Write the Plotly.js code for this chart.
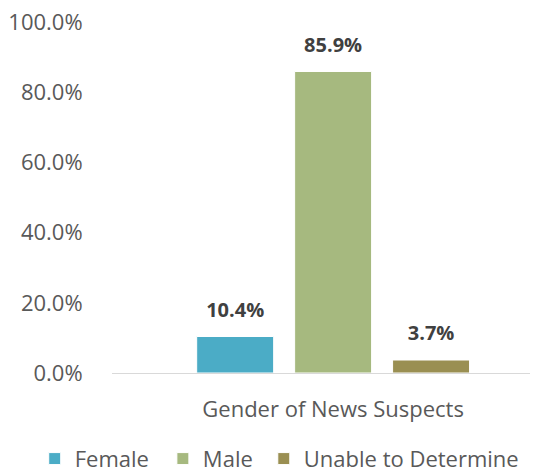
<!DOCTYPE html>
<html>
<head>
<meta charset="utf-8">
<script src="https://cdn.plot.ly/plotly-3.0.1.min.js"></script>
<style>html,body{margin:0;padding:0;background:#fff;}#chart{width:534px;height:472px;}</style>
</head>
<body>
<div id="chart"></div>
<script>
const categories = ["Gender of News Suspects"];
const seriesNames = ["Female", "Male", "Unable to Determine"];
const femaleValues = [10.4];
const maleValues = [85.9];
const unableValues = [3.7];
const seriesColors = ["#4BACC6", "#A6B97F", "#9A8F52"];
const yTickVals = [0, 20, 40, 60, 80, 100];
const yTickText = ["0.0%", "20.0%", "40.0%", "60.0%", "80.0%", "100.0%"];

const allValues = [femaleValues, maleValues, unableValues];
const legendIds = ["legend", "legend2", "legend3"];
const legendX = [0.065, 0.305, 0.494];

const barTraces = seriesNames.map((name, i) => ({
  type: "bar",
  name: name,
  x: categories,
  y: allValues[i],
  legend: legendIds[i],
  marker: {color: seriesColors[i], line: {color: "#ffffff", width: 1}},
  hoverinfo: "none"
}));

const labelTraces = seriesNames.map((name, i) => ({
  type: "scatter",
  mode: "markers+text",
  name: name + " label",
  x: categories,
  y: allValues[i],
  showlegend: false,
  marker: {size: 22, opacity: 0},
  text: allValues[i].map(v => "<b>" + v.toFixed(1) + "%</b>"),
  textposition: "top center",
  textfont: {family: "Open Sans", size: 20, color: "#404040"},
  cliponaxis: false,
  hoverinfo: "none"
}));

const layout = {
  width: 534, height: 472,
  margin: {l: 112, r: 4, t: 22, b: 99},
  paper_bgcolor: "#ffffff", plot_bgcolor: "#ffffff",
  font: {family: "Open Sans", color: "#595959", size: 22},
  barmode: "group",
  bargap: 0.297,
  bargroupgap: 0.214,
  scattermode: "group",
  scattergap: 0.297,
  xaxis: {
    type: "category",
    range: [-0.529, 0.471],
    showline: true, linecolor: "#d9d9d9", linewidth: 1,
    showgrid: false, zeroline: false,
    ticks: "outside", ticklen: 17, tickcolor: "rgba(0,0,0,0)",
    tickfont: {size: 22, color: "#595959"},
    fixedrange: true
  },
  yaxis: {
    range: [0, 100],
    tickvals: yTickVals, ticktext: yTickText,
    showgrid: false, zeroline: false, showline: false,
    ticks: "outside", ticklen: 24, tickcolor: "rgba(0,0,0,0)",
    tickfont: {size: 22, color: "#595959"},
    fixedrange: true
  }
};
legendIds.forEach((id, i) => {
  layout[id] = {orientation: "h", xref: "container", yref: "container",
                x: legendX[i], xanchor: "left", y: 0.028, yanchor: "middle",
                font: {size: 22, color: "#595959"}, bgcolor: "rgba(0,0,0,0)"};
});

Plotly.newPlot("chart", barTraces.concat(labelTraces), layout, {displayModeBar: false, staticPlot: true});
</script>
</body>
</html>
